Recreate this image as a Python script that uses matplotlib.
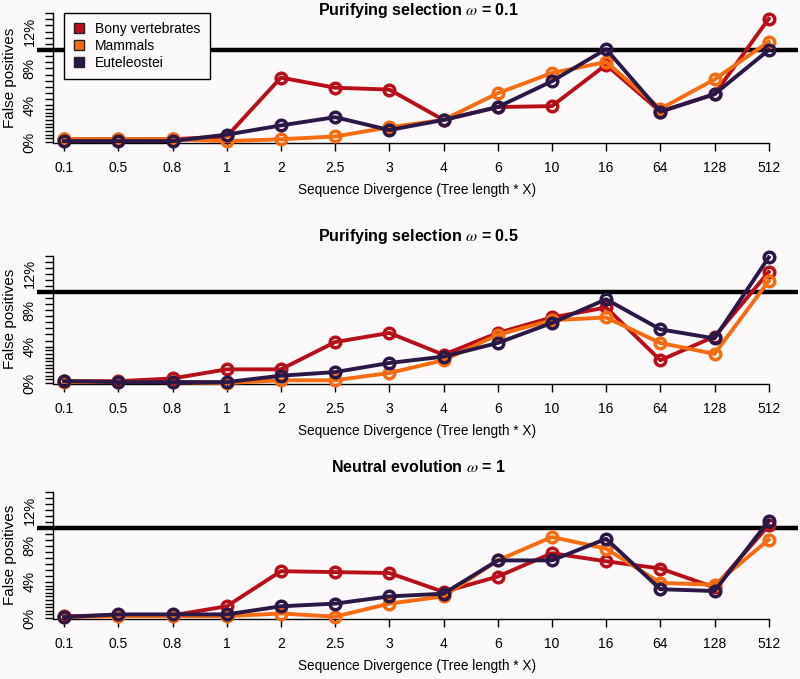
import numpy as np
import matplotlib
matplotlib.use("Agg")
import matplotlib.pyplot as plt
from matplotlib.lines import Line2D

# =========================================================
# DATA  (false positive rate, %)
# =========================================================
divergence = ["0.1", "0.5", "0.8", "1", "2", "2.5", "3", "4", "6", "10", "16", "64", "128", "512"]
groups = ["Bony vertebrates", "Mammals", "Euteleostei"]
colors = ["#b8101a", "#f56c12", "#2b1846"]
titles = ["Purifying selection $\\omega$ = 0.1",
          "Purifying selection $\\omega$ = 0.5",
          "Neutral evolution $\\omega$ = 1"]

# omega = 0.1
bony_01 = [0.3, 0.3, 0.3, 0.6, 7.0, 5.9, 5.7, 2.4, 3.8, 3.9, 8.4, 3.3, 5.2, 13.4]
mammals_01 = [0.3, 0.3, 0.3, 0.1, 0.3, 0.6, 1.6, 2.4, 5.3, 7.5, 8.7, 3.6, 6.8, 10.9]
eutel_01 = [0.1, 0.1, 0.1, 0.8, 1.8, 2.7, 1.3, 2.4, 3.8, 6.6, 10.1, 3.3, 5.2, 10.0]

# omega = 0.5
bony_05 = [0.2, 0.2, 0.5, 1.5, 1.5, 4.5, 5.5, 3.1, 5.5, 7.2, 8.3, 2.5, 5.1, 12.2]
mammals_05 = [0.1, 0.1, 0.1, 0.0, 0.3, 0.3, 1.1, 2.5, 5.3, 6.9, 7.2, 4.4, 3.2, 11.2]
eutel_05 = [0.2, 0.1, 0.1, 0.1, 0.8, 1.2, 2.2, 2.9, 4.4, 6.6, 9.2, 5.9, 4.9, 13.8]

# omega = 1
bony_1 = [0.2, 0.3, 0.3, 1.3, 5.2, 5.1, 5.0, 2.9, 4.6, 7.2, 6.3, 5.5, 3.4, 10.3]
mammals_1 = [0.1, 0.2, 0.2, 0.2, 0.5, 0.15, 1.6, 2.4, 6.4, 9.0, 7.7, 3.9, 3.7, 8.7]
eutel_1 = [0.1, 0.4, 0.4, 0.4, 1.3, 1.6, 2.4, 2.7, 6.4, 6.4, 8.8, 3.2, 3.0, 10.8]

panels = [
    (titles[0], [bony_01, mammals_01, eutel_01]),
    (titles[1], [bony_05, mammals_05, eutel_05]),
    (titles[2], [bony_1, mammals_1, eutel_1]),
]

# =========================================================
# Layout (pixels)
# =========================================================
W, H = 800, 679
BG = "#fbf9fa"
zero_px = [142, 383, 618]      # pixel row of 0%
scale_px = [9.2, 9.1, 9.0]     # pixels per 1%
title_px = [11, 237, 467]
X_LEFT, X_RIGHT = 37, 798
YMIN, YMAX = -0.15, 14.6

plt.rcParams["font.family"] = ["Liberation Sans", "DejaVu Sans"]
plt.rcParams["mathtext.fontset"] = "stix"

fig = plt.figure(figsize=(W / 100, H / 100), dpi=100, facecolor=BG)


def fx(px):
    return px / W


def fy(px):
    return 1 - px / H


x = np.arange(len(divergence))

for i, (title, series) in enumerate(panels):
    y0, s = zero_px[i], scale_px[i]
    top = y0 - YMAX * s
    bottom = y0 - YMIN * s
    ax = fig.add_axes([fx(X_LEFT), fy(bottom), fx(X_RIGHT - X_LEFT), (bottom - top) / H])
    ax.set_facecolor(BG)
    ax.set_xlim(-0.5, 13.54)
    ax.set_ylim(YMIN, YMAX)

    ax.axhline(10, color="black", lw=3.2, zorder=1)

    for vals, c in zip(series, colors):
        ax.plot(x, vals, color=c, lw=2.8, marker="o", ms=7.6, mfc="none",
                mec=c, mew=2.5, clip_on=False, zorder=3)

    # axes in R style
    for side in ["top", "right"]:
        ax.spines[side].set_visible(False)
    ax.spines["left"].set_position(("data", -0.2))
    ax.spines["left"].set_bounds(0, 14)
    ax.spines["bottom"].set_bounds(-0.2, len(divergence) - 1)
    for side in ["left", "bottom"]:
        ax.spines[side].set_linewidth(1.0)

    ax.set_xticks(x)
    ax.set_xticklabels(divergence, fontsize=10)
    ax.tick_params(axis="x", direction="out", length=6, width=1.0, pad=7)

    ax.set_yticks([0, 4, 8, 12])
    ax.set_yticklabels(["0%", "4%", "8%", "12%"], fontsize=10.5, rotation=90, va="center")
    minor = np.concatenate([np.linspace(0, 4, 11), np.linspace(4, 14, 16)])
    ax.set_yticks(minor, minor=True)
    ax.tick_params(axis="y", which="both", direction="out", length=6, width=1.0, pad=6)

    fig.text(fx(10), fy(y0 - 7 * s), "False positives", rotation=90,
             ha="center", va="center", fontsize=11)
    fig.text(fx(417), fy(y0 + 48), "Sequence Divergence (Tree length * X)",
             ha="center", va="center", fontsize=9.8)
    fig.text(fx(418), fy(title_px[i]), title, ha="center", va="center",
             fontsize=11.5, fontweight="bold")

    if i == 0:
        handles = [Line2D([], [], ls="none", marker="s", ms=6.5, mfc=c, mec="#222222", mew=1.0)
                   for c in colors]
        leg = ax.legend(handles, groups, loc="upper left",
                        bbox_to_anchor=(fx(64), fy(13)), bbox_transform=fig.transFigure,
                        fontsize=10, frameon=True, fancybox=False, framealpha=1,
                        edgecolor="black", facecolor=BG, handlelength=0.8,
                        handletextpad=0.8, borderpad=0.65, labelspacing=0.2,
                        borderaxespad=0)
        leg.get_frame().set_linewidth(1.0)
        leg.set_zorder(5)

fig.savefig("out.png", dpi=100, facecolor=BG)
